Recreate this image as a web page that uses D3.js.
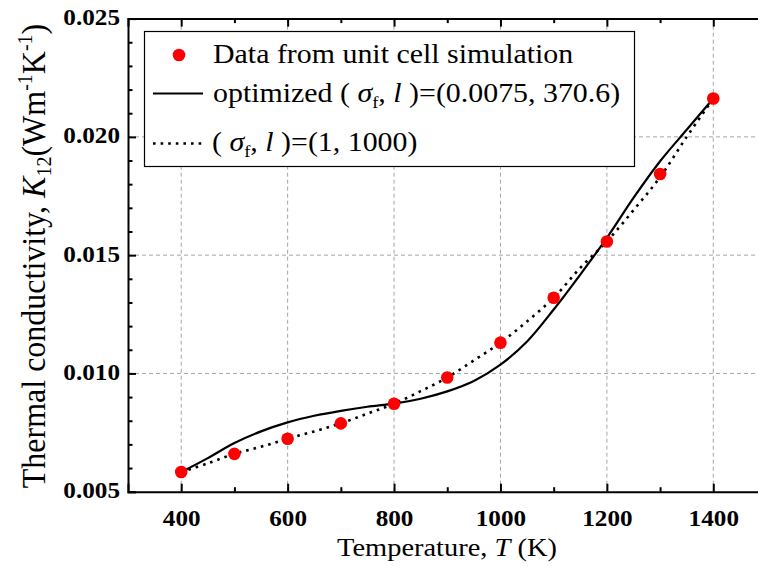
<!DOCTYPE html>
<html>
<head>
<meta charset="utf-8">
<script src="https://cdn.jsdelivr.net/npm/d3@7/dist/d3.min.js"></script>
<style>
  html, body { margin: 0; padding: 0; background: #fff; overflow: hidden; }
  svg { display: block; font-family: "Liberation Serif", "Times New Roman", serif; }
</style>
</head>
<body>
<svg id="chart" width="758" height="567"></svg>
<script>
// Unit-cell simulation results (temperature in K, conductivity in W m^-1 K^-1)
const simTemps = [400, 500, 600, 700, 800, 900, 1000, 1100, 1200, 1300, 1400];
const simK12 = [0.00583, 0.0066, 0.00724, 0.00789, 0.00872, 0.00983, 0.0113, 0.0132, 0.01558, 0.01843, 0.02162];

// GP regression curves sampled every 50 K
const curveTemps = [400, 450, 500, 550, 600, 650, 700, 750, 800, 850, 900, 950, 1000, 1050, 1100, 1150, 1200, 1250, 1300, 1350, 1400];
const optimizedK12 = [0.00583, 0.00642, 0.00706, 0.00755, 0.00793, 0.00821, 0.00842, 0.00859, 0.00872, 0.00893, 0.00924, 0.00968, 0.01037, 0.01135, 0.0127, 0.01418, 0.01573, 0.01742, 0.01897, 0.0203, 0.02162];
const defaultK12 = [0.00583, 0.0062, 0.0066, 0.0069, 0.00724, 0.00755, 0.00789, 0.0083, 0.00872, 0.00925, 0.00983, 0.01055, 0.0113, 0.0122, 0.0132, 0.01446, 0.01558, 0.0169, 0.0183, 0.0200, 0.02162];

const xMajorTicks = [400, 600, 800, 1000, 1200, 1400];
const xMinorTicks = [500, 700, 900, 1100, 1300, 1500];
const yMajorTicks = [0.005, 0.010, 0.015, 0.020, 0.025];
const yMinorTicks = d3.range(6, 25).filter(v => v % 5 !== 0).map(v => v / 1000);

// glyphs are set slightly wide
const STRETCH = 1.12;

const svg = d3.select("#chart");

const x = d3.scaleLinear().domain([300, 1500]).range([128, 766.5]);
const y = d3.scaleLinear().domain([0.005, 0.025]).range([491.7, 18.6]);

const x0 = x.range()[0], x1 = x.range()[1];
const y0 = y.range()[0], y1 = y.range()[1];

// dashed grid
const grid = svg.append("g").attr("stroke", "#a6a6a6").attr("stroke-width", 1).attr("stroke-dasharray", "4,3");
grid.selectAll("line.v").data(xMajorTicks).join("line")
  .attr("x1", d => x(d)).attr("x2", d => x(d)).attr("y1", y0).attr("y2", y1);
grid.selectAll("line.h").data([0.010, 0.015, 0.020]).join("line")
  .attr("x1", x0).attr("x2", x1).attr("y1", d => y(d)).attr("y2", d => y(d));

// curves
const line = d3.line().x(d => x(d[0])).y(d => y(d[1])).curve(d3.curveCatmullRom);
svg.append("path")
  .datum(curveTemps.map((t, i) => [t, optimizedK12[i]]))
  .attr("d", line).attr("fill", "none").attr("stroke", "#000").attr("stroke-width", 2.2);
svg.append("path")
  .datum(curveTemps.map((t, i) => [t, defaultK12[i]]))
  .attr("d", line).attr("fill", "none").attr("stroke", "#000").attr("stroke-width", 2.6)
  .attr("stroke-dasharray", "2.6,5");

// simulation points
svg.append("g").selectAll("circle").data(simTemps.map((t, i) => [t, simK12[i]])).join("circle")
  .attr("cx", d => x(d[0])).attr("cy", d => y(d[1])).attr("r", 6.3).attr("fill", "#ff0000");

// axes: ticks drawn inward
const bottomAxis = svg.append("g").attr("transform", `translate(0,${y0})`);
bottomAxis.call(d3.axisBottom(x).tickValues(xMajorTicks).tickSize(-8).tickPadding(18).tickFormat(d3.format("d")));
const bottomMinor = svg.append("g").attr("transform", `translate(0,${y0})`);
bottomMinor.call(d3.axisBottom(x).tickValues(xMinorTicks).tickSize(-4.5).tickFormat(""));

const topAxis = svg.append("g").attr("transform", `translate(0,${y1})`);
topAxis.call(d3.axisTop(x).tickValues(xMajorTicks).tickSize(-8).tickFormat(""));
const topMinor = svg.append("g").attr("transform", `translate(0,${y1})`);
topMinor.call(d3.axisTop(x).tickValues(xMinorTicks).tickSize(-4.5).tickFormat(""));

const leftAxis = svg.append("g").attr("transform", `translate(${x0},0)`);
leftAxis.call(d3.axisLeft(y).tickValues(yMajorTicks).tickSize(-8).tickPadding(8).tickFormat(d3.format(".3f")));
const leftMinor = svg.append("g").attr("transform", `translate(${x0},0)`);
leftMinor.call(d3.axisLeft(y).tickValues(yMinorTicks).tickSize(-4.5).tickFormat(""));

svg.selectAll(".domain").attr("stroke", "#000").attr("stroke-width", 2);
svg.selectAll(".tick line").attr("stroke", "#000").attr("stroke-width", 2);
bottomMinor.select(".domain").remove();
topMinor.select(".domain").remove();
leftMinor.select(".domain").remove();
svg.selectAll(".tick text")
  .attr("font-family", "Liberation Serif, Times New Roman, serif")
  .attr("font-size", 22.5).attr("font-weight", "bold").attr("fill", "#000")
  .attr("transform", `scale(${STRETCH},1)`);
bottomAxis.selectAll(".tick text").attr("dy", "0.71em");
leftAxis.selectAll(".tick text").attr("x", -8 / STRETCH).attr("dy", "0.26em");

// legend
const legend = svg.append("g");
legend.append("rect").attr("x", 144.5).attr("y", 31.5).attr("width", 490).attr("height", 135)
  .attr("fill", "#fff").attr("stroke", "#000").attr("stroke-width", 1.2);
legend.append("circle").attr("cx", 179).attr("cy", 55).attr("r", 6.3).attr("fill", "#ff0000");
legend.append("line").attr("x1", 153).attr("x2", 203).attr("y1", 93.5).attr("y2", 93.5)
  .attr("stroke", "#000").attr("stroke-width", 2.2);
legend.append("line").attr("x1", 153).attr("x2", 203).attr("y1", 143.5).attr("y2", 143.5)
  .attr("stroke", "#000").attr("stroke-width", 2.6).attr("stroke-dasharray", "2.6,5");

const legFont = 26.7;
function legendText(tx, ty) {
  return legend.append("text").attr("transform", `translate(${tx},${ty}) scale(${STRETCH},1)`)
    .attr("font-size", legFont);
}
legendText(213, 63).text("Data from unit cell simulation");

function paramText(sel) {
  sel.append("tspan").text("( ");
  sel.append("tspan").attr("font-style", "italic").text("σ");
  sel.append("tspan").attr("font-size", legFont * 0.62).attr("dy", 6).text("f");
  sel.append("tspan").attr("dy", -6).text(", ");
  sel.append("tspan").attr("font-style", "italic").text("l");
  sel.append("tspan").text(" )=");
}
const t2 = legendText(213, 101.5);
t2.append("tspan").text("optimized ");
paramText(t2);
t2.append("tspan").text("(0.0075, 370.6)");

const t3 = legendText(212, 151);
paramText(t3);
t3.append("tspan").text("(1, 1000)");

// axis titles
const xt = svg.append("text").attr("transform", `translate(447,556) scale(${STRETCH},1)`)
  .attr("text-anchor", "middle").attr("font-size", 25.4);
xt.append("tspan").text("Temperature, ");
xt.append("tspan").attr("font-style", "italic").text("T");
xt.append("tspan").text(" (K)");

const yt = svg.append("text").attr("transform", `translate(45,256) rotate(-90) scale(1,1.06)`)
  .attr("text-anchor", "middle").attr("font-size", 32);
yt.append("tspan").text("Thermal conductivity, ");
yt.append("tspan").attr("font-style", "italic").text("K");
yt.append("tspan").attr("font-size", 20).attr("dy", 6).text("12");
yt.append("tspan").attr("dy", -6).text("(Wm");
yt.append("tspan").attr("font-size", 20).attr("dy", -12).text("-1");
yt.append("tspan").attr("dy", 12).text("K");
yt.append("tspan").attr("font-size", 20).attr("dy", -12).text("-1");
yt.append("tspan").attr("dy", 12).text(")");
</script>
</body>
</html>
